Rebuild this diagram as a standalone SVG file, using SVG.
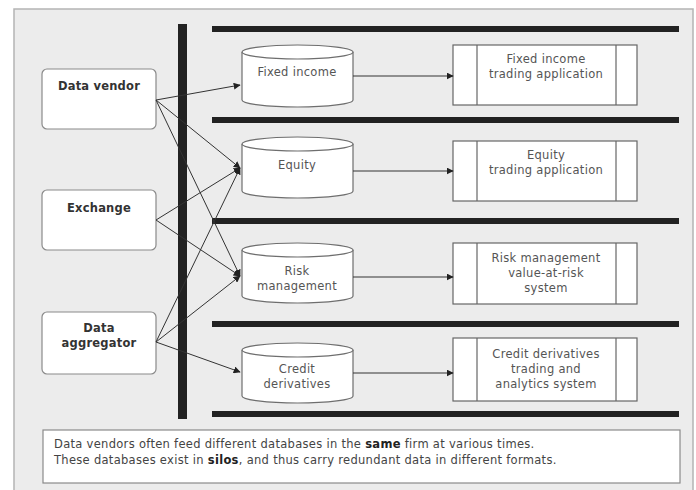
<svg xmlns="http://www.w3.org/2000/svg" width="696" height="490" viewBox="0 0 696 490">
  <defs>
    <marker id="arrow" viewBox="0 0 10 10" refX="9" refY="5" markerWidth="7" markerHeight="7" markerUnits="userSpaceOnUse" orient="auto">
      <path d="M0,0 L10,5 L0,10 z" fill="#222"/>
    </marker>
    <style>
      .frame { fill: #ececec; stroke: #b4b4b4; stroke-width: 1.5; }
      .src { fill: #ffffff; stroke: #8a8a8a; stroke-width: 1.2; }
      .db { fill: #ffffff; stroke: #6e6e6e; stroke-width: 1.2; }
      .app { fill: #ffffff; stroke: #666; stroke-width: 1.2; }
      .bar { fill: #222; }
      .lbl-b { font-family: "DejaVu Sans", Verdana, sans-serif; font-size: 11.5px; letter-spacing: 0.2px; font-weight: bold; fill: #333; text-anchor: middle; }
      .lbl { font-family: "DejaVu Sans", Verdana, sans-serif; font-size: 11.5px; letter-spacing: 0.3px; fill: #555; text-anchor: middle; }
      .note { font-family: "DejaVu Sans", Verdana, sans-serif; font-size: 11.5px; letter-spacing: 0.3px; fill: #444; }
      .conn { stroke: #333; stroke-width: 1; fill: none; marker-end: url(#arrow); }
    </style>
  </defs>

  <rect x="0" y="0" width="696" height="490" fill="#ffffff"/>
  <rect class="frame" x="14" y="9" width="679" height="485"/>

  <!-- divider bars -->
  <g id="bars">
    <rect class="bar" x="178" y="24" width="9" height="395"/>
    <rect class="bar" x="212" y="26" width="467" height="6"/>
    <rect class="bar" x="212" y="117" width="467" height="6"/>
    <rect class="bar" x="212" y="218" width="467" height="6"/>
    <rect class="bar" x="212" y="321" width="467" height="6"/>
    <rect class="bar" x="212" y="411" width="467" height="6"/>
  </g>

  <!-- data sources -->
  <g id="data-vendor">
    <rect class="src" x="42" y="69" width="114" height="60" rx="5"/>
    <text class="lbl-b" x="99" y="90">Data vendor</text>
  </g>
  <g id="exchange">
    <rect class="src" x="42" y="190" width="114" height="60" rx="5"/>
    <text class="lbl-b" x="99" y="212">Exchange</text>
  </g>
  <g id="data-aggregator">
    <rect class="src" x="42" y="312" width="114" height="62" rx="5"/>
    <text class="lbl-b" x="99" y="332">Data</text>
    <text class="lbl-b" x="99" y="347">aggregator</text>
  </g>

  <!-- databases -->
  <g id="db-fixed-income">
    <path class="db" d="M242,52 L242,100 A55.5,7 0 0 0 353,100 L353,52 A55.5,7 0 0 0 242,52 Z"/>
    <path class="db" d="M242,52 A55.5,7 0 0 0 353,52" fill="none"/>
    <text class="lbl" x="297" y="76">Fixed income</text>
  </g>
  <g id="db-equity">
    <path class="db" d="M242,144 L242,191 A55.5,7 0 0 0 353,191 L353,144 A55.5,7 0 0 0 242,144 Z"/>
    <path class="db" d="M242,144 A55.5,7 0 0 0 353,144" fill="none"/>
    <text class="lbl" x="297" y="169">Equity</text>
  </g>
  <g id="db-risk">
    <path class="db" d="M242,250 L242,296 A55.5,7 0 0 0 353,296 L353,250 A55.5,7 0 0 0 242,250 Z"/>
    <path class="db" d="M242,250 A55.5,7 0 0 0 353,250" fill="none"/>
    <text class="lbl" x="297" y="275">Risk</text>
    <text class="lbl" x="297" y="290">management</text>
  </g>
  <g id="db-credit">
    <path class="db" d="M242,350 L242,396 A55.5,7 0 0 0 353,396 L353,350 A55.5,7 0 0 0 242,350 Z"/>
    <path class="db" d="M242,350 A55.5,7 0 0 0 353,350" fill="none"/>
    <text class="lbl" x="297" y="373">Credit</text>
    <text class="lbl" x="297" y="388">derivatives</text>
  </g>

  <!-- applications -->
  <g id="app-fixed-income">
    <rect class="app" x="453" y="45" width="184" height="60"/>
    <line class="app" x1="477" y1="45" x2="477" y2="105"/>
    <line class="app" x1="616" y1="45" x2="616" y2="105"/>
    <text class="lbl" x="546" y="63">Fixed income</text>
    <text class="lbl" x="546" y="78">trading application</text>
  </g>
  <g id="app-equity">
    <rect class="app" x="453" y="141" width="184" height="60"/>
    <line class="app" x1="477" y1="141" x2="477" y2="201"/>
    <line class="app" x1="616" y1="141" x2="616" y2="201"/>
    <text class="lbl" x="546" y="159">Equity</text>
    <text class="lbl" x="546" y="174">trading application</text>
  </g>
  <g id="app-risk">
    <rect class="app" x="453" y="243" width="184" height="61"/>
    <line class="app" x1="477" y1="243" x2="477" y2="304"/>
    <line class="app" x1="616" y1="243" x2="616" y2="304"/>
    <text class="lbl" x="546" y="262">Risk management</text>
    <text class="lbl" x="546" y="277">value-at-risk</text>
    <text class="lbl" x="546" y="292">system</text>
  </g>
  <g id="app-credit">
    <rect class="app" x="453" y="338" width="184" height="63"/>
    <line class="app" x1="477" y1="338" x2="477" y2="401"/>
    <line class="app" x1="616" y1="338" x2="616" y2="401"/>
    <text class="lbl" x="546" y="358">Credit derivatives</text>
    <text class="lbl" x="546" y="373">trading and</text>
    <text class="lbl" x="546" y="388">analytics system</text>
  </g>

  <!-- feeds and database-to-application links -->
  <g id="connectors">
    <line class="conn" x1="156" y1="100" x2="240" y2="85"/>
    <line class="conn" x1="156" y1="100" x2="240" y2="168"/>
    <line class="conn" x1="156" y1="100" x2="240" y2="276"/>
    <line class="conn" x1="156" y1="220" x2="240" y2="168"/>
    <line class="conn" x1="156" y1="220" x2="240" y2="276"/>
    <line class="conn" x1="156" y1="342" x2="240" y2="168"/>
    <line class="conn" x1="156" y1="342" x2="240" y2="276"/>
    <line class="conn" x1="156" y1="342" x2="240" y2="372"/>
    <line class="conn" x1="353" y1="76" x2="453" y2="76"/>
    <line class="conn" x1="353" y1="171" x2="453" y2="171"/>
    <line class="conn" x1="353" y1="277" x2="453" y2="277"/>
    <line class="conn" x1="353" y1="373" x2="453" y2="373"/>
  </g>

  <!-- caption -->
  <g id="note">
    <rect x="43" y="430" width="637" height="53" fill="#ffffff" stroke="#8a8a8a" stroke-width="1.2"/>
    <text class="note" x="54" y="448">Data vendors often feed different databases in the <tspan font-weight="bold" fill="#222">same</tspan> firm at various times.</text>
    <text class="note" x="54" y="464">These databases exist in <tspan font-weight="bold" fill="#222">silos</tspan>, and thus carry redundant data in different formats.</text>
  </g>
</svg>
